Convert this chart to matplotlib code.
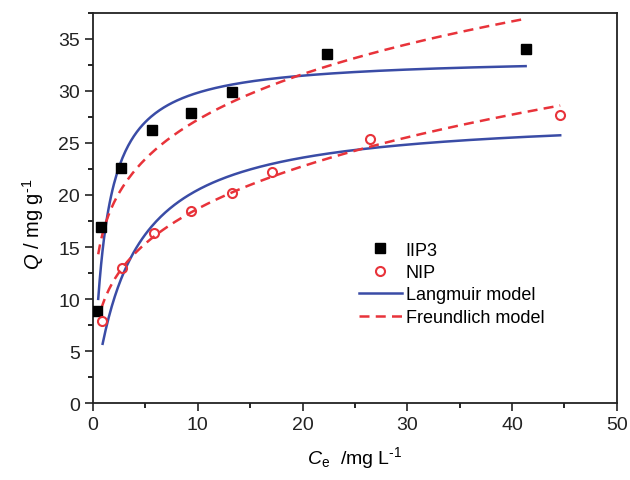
import numpy as np
import matplotlib
matplotlib.use("Agg")
import matplotlib.pyplot as plt
from matplotlib.ticker import MultipleLocator

plt.rcParams['font.family'] = ['Liberation Sans', 'DejaVu Sans']
plt.rcParams['mathtext.fontset'] = 'custom'
plt.rcParams['mathtext.rm'] = 'Liberation Sans'
plt.rcParams['mathtext.it'] = 'Liberation Sans:italic'
plt.rcParams['mathtext.bf'] = 'Liberation Sans:bold'

# Experimental data
ce_iip3 = [0.4, 0.8, 2.7, 5.6, 9.4, 13.3, 22.3, 41.3]
q_iip3 = [8.8, 16.9, 22.6, 26.2, 27.9, 29.9, 33.6, 34.0]
ce_nip = [0.85, 2.8, 5.8, 9.4, 13.3, 17.1, 26.4, 44.6]
q_nip = [7.9, 13.0, 16.3, 18.5, 20.2, 22.2, 25.4, 27.7]

# Fitted model parameters (Langmuir: qm, KL; Freundlich: KF, 1/n)
lang_iip3 = [33.3, 0.86]
freu_iip3 = [16.6, 0.215]
lang_nip = [27.8, 0.28]
freu_nip = [9.69, 0.285]
range_iip3 = [0.5, 41.3]
range_nip_l = [0.92, 44.6]
range_nip_f = [0.8, 44.6]

blue = "#3a4ca6"
red = "#e8333a"

def langmuir(c, p):
    return p[0] * p[1] * c / (1 + p[1] * c)

def freundlich(c, p):
    return p[0] * c ** p[1]

fig = plt.figure(figsize=(6.3, 4.81), dpi=100)
ax = fig.add_axes([0.1476, 0.160, 0.8314, 0.811])

c1 = np.linspace(range_iip3[0], range_iip3[1], 300)
c2 = np.linspace(range_nip_l[0], range_nip_l[1], 300)
c3 = np.linspace(range_nip_f[0], range_nip_f[1], 300)

ax.plot(ce_iip3, q_iip3, ls="none", marker="s", ms=6.5, color="black", label="IIP3", zorder=3)
ax.plot(ce_nip, q_nip, ls="none", marker="o", ms=6.5, mfc="none", mec=red, mew=1.5, label="NIP", zorder=3)
ax.plot(c1, langmuir(c1, lang_iip3), color=blue, lw=1.8, label="Langmuir model")
ax.plot(c1, freundlich(c1, freu_iip3), color=red, lw=1.8, ls=(0, (4, 2.5)), label="Freundlich model")
ax.plot(c2, langmuir(c2, lang_nip), color=blue, lw=1.8)
ax.plot(c3, freundlich(c3, freu_nip), color=red, lw=1.8, ls=(0, (4, 2.5)))

ax.set_xlim(0, 50)
ax.set_ylim(0, 37.5)
ax.xaxis.set_major_locator(MultipleLocator(10))
ax.xaxis.set_minor_locator(MultipleLocator(5))
ax.yaxis.set_major_locator(MultipleLocator(5))
ax.yaxis.set_minor_locator(MultipleLocator(2.5))
ax.tick_params(which="major", direction="out", length=6, width=1.2, labelsize=14, colors="#222222")
ax.tick_params(which="minor", direction="out", length=3.5, width=1.2)
for s in ax.spines.values():
    s.set_linewidth(1.3)
    s.set_color("#222222")

ax.set_xlabel(r"$C_{\rm e}$  /mg L$^{\text{-1}}$", fontsize=14, labelpad=8)
ax.set_ylabel(r"$Q$ / mg g$^{\text{-1}}$", fontsize=14.5)
ax.yaxis.set_label_coords(-0.09, 0.46)

leg = ax.legend(loc="upper left", bbox_to_anchor=(0.49, 0.437), frameon=False,
                fontsize=13, handlelength=2.4, handletextpad=0.2, labelspacing=0.3,
                borderpad=0)

fig.savefig("out.png", dpi=100)
